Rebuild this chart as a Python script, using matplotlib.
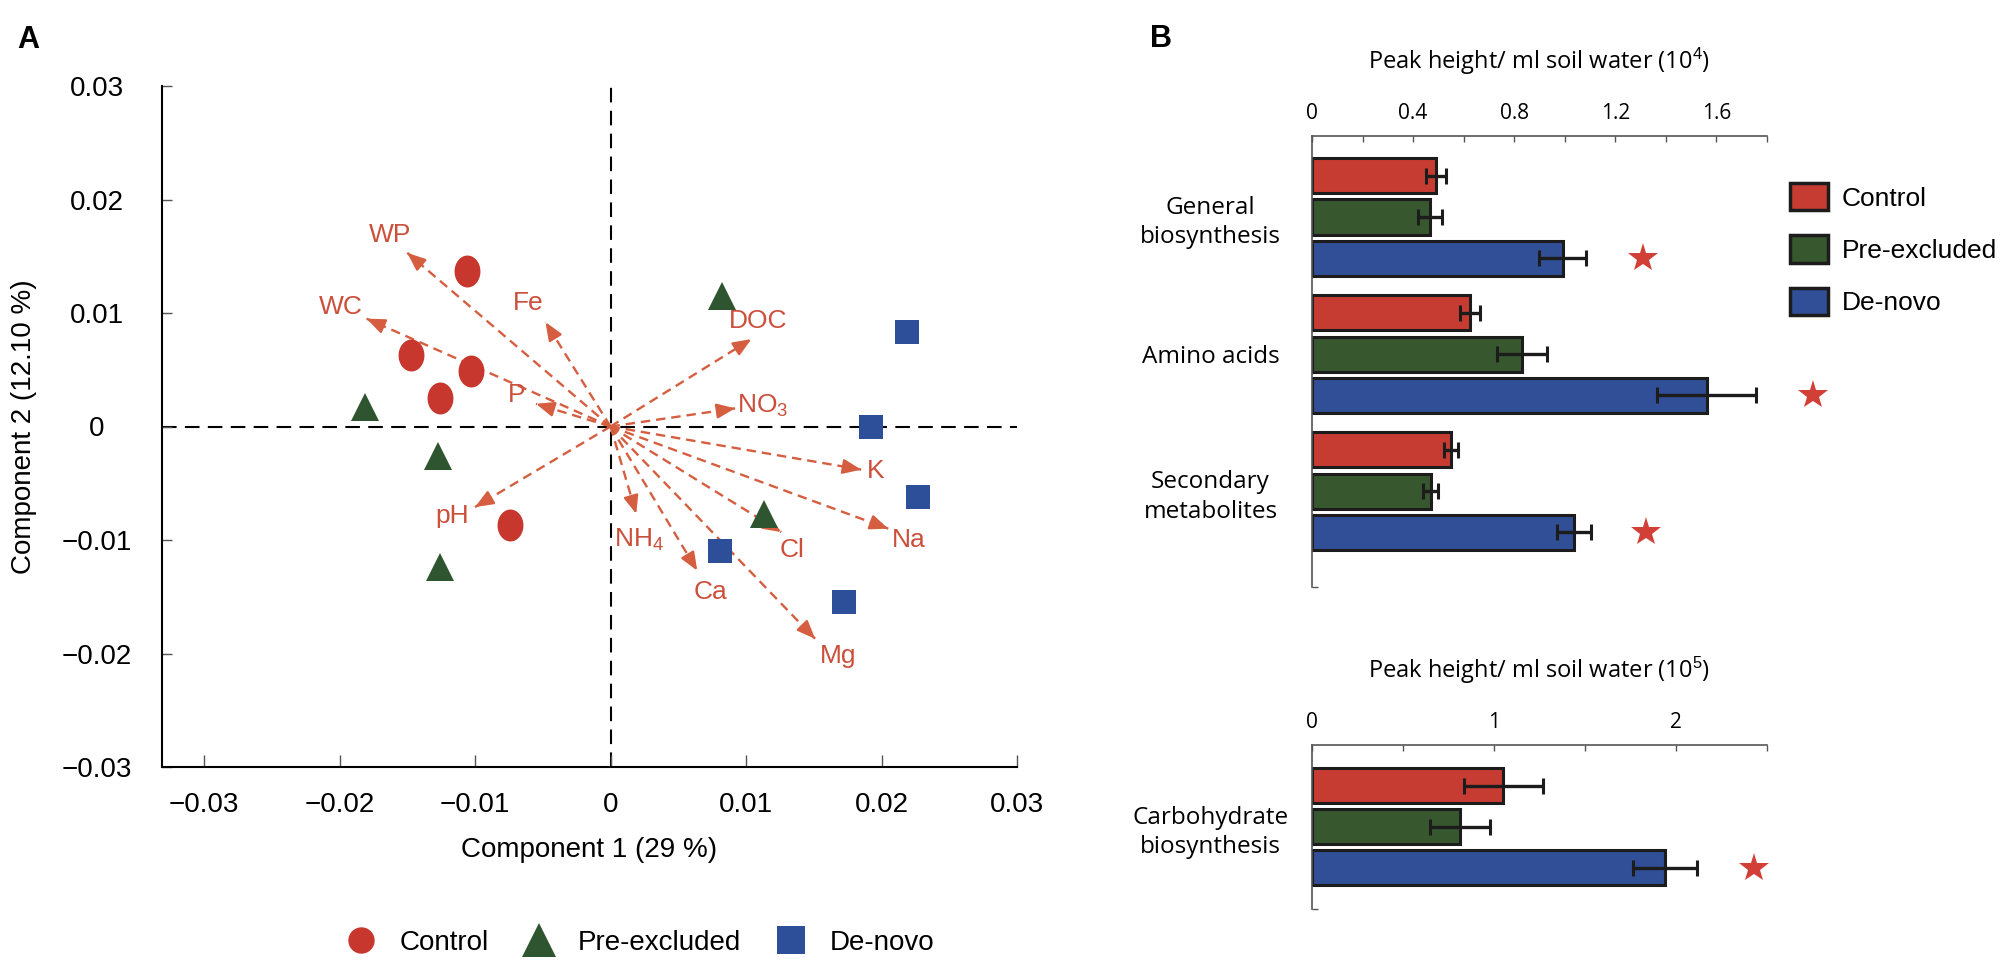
import numpy as np
import matplotlib
matplotlib.use("Agg")
import matplotlib.pyplot as plt
from matplotlib import font_manager
from matplotlib.path import Path
from matplotlib.lines import Line2D
from matplotlib.patches import Patch

# ---- data: panel A (PCA scores and loading vectors) ----
control_x = [-0.0106, -0.0147, -0.0103, -0.0126, -0.0074]
control_y = [0.0137, 0.0063, 0.0049, 0.0025, -0.0087]
preexcl_x = [-0.0181, -0.0127, -0.0126, 0.0082, 0.0113]
preexcl_y = [0.0017, -0.0026, -0.0124, 0.0115, -0.0077]
denovo_x = [0.0219, 0.0192, 0.0227, 0.0081, 0.0172]
denovo_y = [0.0083, 0.0000, -0.0062, -0.0110, -0.0155]

env_names = ["WP", "WC", "Fe", "P", "pH", "DOC", "NO$_3$", "K", "Na", "Cl",
             "Mg", "Ca", "NH$_4$"]
env_x = [-0.0150, -0.0180, -0.0048, -0.0055, -0.0100, 0.0104, 0.0092,
         0.0185, 0.0205, 0.0126, 0.0151, 0.0064, 0.0019]
env_y = [0.0153, 0.0095, 0.0092, 0.0020, -0.0071, 0.0077, 0.0016,
         -0.0038, -0.0090, -0.0093, -0.0187, -0.0127, -0.0077]
label_x = [-0.0163, -0.0199, -0.0061, -0.0069, -0.0117, 0.0109, 0.0112,
           0.0196, 0.0220, 0.0134, 0.0168, 0.0074, 0.0021]
label_y = [0.0169, 0.0105, 0.0109, 0.0028, -0.0079, 0.0093, 0.0018,
           -0.0039, -0.0100, -0.0109, -0.0202, -0.0146, -0.0100]

pca_ticks = [-0.03, -0.02, -0.01, 0, 0.01, 0.02, 0.03]
pca_ticklabels = ["\u22120.03", "\u22120.02", "\u22120.01", "0", "0.01", "0.02", "0.03"]

# ---- data: panel B (peak heights) ----
groups_top = ["General\nbiosynthesis", "Amino acids", "Secondary\nmetabolites"]
control_top = [0.49, 0.624, 0.549]
control_top_err = [0.04, 0.04, 0.028]
preexcl_top = [0.466, 0.83, 0.47]
preexcl_top_err = [0.048, 0.10, 0.03]
denovo_top = [0.992, 1.561, 1.036]
denovo_top_err = [0.093, 0.196, 0.067]
star_top = [1.31, 1.98, 1.32]

groups_bot = ["Carbohydrate\nbiosynthesis"]
control_bot = [1.05]
control_bot_err = [0.217]
preexcl_bot = [0.813]
preexcl_bot_err = [0.165]
denovo_bot = [1.94]
denovo_bot_err = [0.176]
star_bot = [2.43]

# ---- styles ----
names = {f.name for f in font_manager.fontManager.ttflist}
narrow = "Liberation Sans Narrow" if "Liberation Sans Narrow" in names else "Liberation Sans"
human = "Open Sans"

plt.rcParams["font.family"] = ["Liberation Sans", "DejaVu Sans"]
plt.rcParams["mathtext.fontset"] = "custom"
plt.rcParams["mathtext.rm"] = "Liberation Sans"
plt.rcParams["mathtext.it"] = "Liberation Sans"

red = "#c8372d"
green = "#2f5530"
blue = "#2d4f99"
bar_red = "#c63c32"
bar_green = "#37572f"
bar_blue = "#314f96"
arrow_c = "#d65e40"
edge = "#1c1c1c"
axis_gray = "#555555"

t = np.linspace(0, 2 * np.pi, 60)
ellipse = Path(np.column_stack([0.81 * np.cos(t), np.sin(t)]), closed=True)

fig = plt.figure(figsize=(20, 9.65), dpi=100)
W, H = 2000.0, 965.0


def box(left, top, right, bottom):
    return [left / W, 1 - bottom / H, (right - left) / W, (bottom - top) / H]


# ================= panel A =================
ax = fig.add_axes(box(162, 86, 1017, 767))
ax.set_xlim(-0.0331, 0.030)
ax.set_ylim(-0.03, 0.03)

ax.axhline(0, color="black", lw=1.5, dashes=(7, 4), zorder=1)
ax.axvline(0, color="black", lw=1.5, dashes=(7, 4), zorder=1)

for ex, ey in zip(env_x, env_y):
    ax.plot([0, ex], [0, ey], color=arrow_c, lw=1.7, dashes=(4, 2.5), zorder=2)
    p0 = ax.transData.transform((0, 0))
    p1 = ax.transData.transform((ex, ey))
    d = (p1 - p0) / np.hypot(*(p1 - p0))
    ax.annotate("", xy=(ex, ey), xytext=(-d[0] * 11, -d[1] * 11),
                textcoords="offset points",
                arrowprops=dict(arrowstyle="-|>,head_length=1.1,head_width=0.45",
                                color=arrow_c, lw=1.7, shrinkA=0, shrinkB=0),
                zorder=2)

for name, lx, ly in zip(env_names, label_x, label_y):
    ax.text(lx, ly, name, color="#cc4f3b", fontsize=19, family=narrow,
            ha="center", va="center", zorder=3)

ax.plot(control_x, control_y, ls="none", marker=ellipse, ms=23, color=red,
        mew=0, zorder=4)
ax.plot(preexcl_x, preexcl_y, ls="none", marker="^", ms=20, color=green,
        mew=0, zorder=4)
ax.plot(denovo_x, denovo_y, ls="none", marker="s", ms=17, color=blue,
        mew=0, zorder=4)

for s in ["top", "right"]:
    ax.spines[s].set_visible(False)
for s in ["left", "bottom"]:
    ax.spines[s].set_linewidth(1.5)

ax.set_xticks(pca_ticks, pca_ticklabels)
ax.set_yticks(pca_ticks, pca_ticklabels)
ax.tick_params(axis="x", direction="in", length=9, width=1, color=axis_gray,
               labelsize=20, pad=18)
ax.tick_params(axis="y", direction="in", length=7, width=1, color=axis_gray,
               labelsize=20, pad=47)
for lab in ax.get_yticklabels():
    lab.set_ha("center")

ax.set_xlabel("Component 1 (29 %)", fontsize=20, labelpad=14)
ax.set_ylabel("Component 2 (12.10 %)", fontsize=20, labelpad=18)

legA = [Line2D([], [], ls="none", marker="o", ms=19, color=red, mew=0),
        Line2D([], [], ls="none", marker="^", ms=24, color=green, mew=0),
        Line2D([], [], ls="none", marker="s", ms=20, color=blue, mew=0)]
fig.legend(legA, ["Control", "Pre-excluded", "De-novo"], loc="center",
           bbox_to_anchor=(0.3205, 1 - 943 / H), ncol=3, frameon=False,
           fontsize=20, handlelength=1.0, handletextpad=0.9,
           columnspacing=1.3, borderpad=0)

fig.text(28 / W, 1 - 40 / H, "A", fontsize=22, fontweight="bold",
         ha="center", va="center")
fig.text(1161 / W, 1 - 39 / H, "B", fontsize=22, fontweight="bold",
         ha="center", va="center")

# ================= panel B =================
step = 3.32
bar_h = 0.85


def bar_panel(axb, groups, vals, errs, stars, xmax, major, minor, title,
              top_pad, bottom_pad):
    centers = np.arange(len(groups)) * step
    colors = [bar_red, bar_green, bar_blue]
    for k, (v, e, c) in enumerate(zip(vals, errs, colors)):
        axb.barh(centers + (k - 1), v, height=bar_h, color=c, edgecolor=edge,
                 linewidth=2.2, xerr=e, zorder=2,
                 error_kw=dict(ecolor=edge, elinewidth=2.4, capsize=5.5,
                               capthick=2.2, zorder=3))
    axb.plot(stars, centers + 1, ls="none", marker="*", ms=22, color="#d23f37",
             mew=0, clip_on=False, zorder=4)
    axb.set_xlim(0, xmax)
    ylo = centers[-1] + bottom_pad
    axb.set_ylim(ylo, -top_pad)
    axb.xaxis.tick_top()
    axb.xaxis.set_label_position("top")
    axb.set_xticks(major, [f"{m:g}" for m in major])
    axb.set_xticks(minor, minor=True)
    axb.tick_params(axis="x", which="both", direction="in", length=4, width=1,
                    color=axis_gray, labelsize=15, pad=9)
    for lab in axb.get_xticklabels():
        lab.set_family(human)
    axb.set_yticks(centers, groups)
    axb.set_yticks([ylo], minor=True)
    axb.tick_params(axis="y", which="major", length=0, pad=73, labelsize=17.5)
    axb.tick_params(axis="y", which="minor", direction="in", length=4, width=1,
                    color=axis_gray)
    for lab in axb.get_yticklabels():
        lab.set_ha("center")
        lab.set_multialignment("center")
        lab.set_family(human)
        lab.set_linespacing(1.3)
    axb.set_xlabel(title, fontsize=17, family=human, labelpad=24)
    for s in ["right", "bottom"]:
        axb.spines[s].set_visible(False)
    for s in ["top", "left"]:
        axb.spines[s].set_color(axis_gray)
        axb.spines[s].set_linewidth(1.2)


axB1 = fig.add_axes(box(1312, 136, 1767, 587))
bar_panel(axB1, groups_top, [control_top, preexcl_top, denovo_top],
          [control_top_err, preexcl_top_err, denovo_top_err], star_top, 1.8,
          [0, 0.4, 0.8, 1.2, 1.6], np.arange(0, 1.81, 0.2),
          "Peak height/ ml soil water (10$^4$)", 1.96, 2.32)

axB2 = fig.add_axes(box(1312, 745, 1767, 909))
bar_panel(axB2, groups_bot, [control_bot, preexcl_bot, denovo_bot],
          [control_bot_err, preexcl_bot_err, denovo_bot_err], star_bot, 2.5,
          [0, 1, 2], np.arange(0, 2.51, 0.5),
          "Peak height/ ml soil water (10$^5$)", 1.99, 2.0)

legB = [Patch(facecolor=c, edgecolor=edge, linewidth=2.5)
        for c in [bar_red, bar_green, bar_blue]]
fig.legend(legB, ["Control", "Pre-excluded", "De-novo"], loc="upper left",
           bbox_to_anchor=(1790 / W, 1 - 183 / H), frameon=False, fontsize=19,
           handlelength=1.44, handleheight=1.21, handletextpad=0.53,
           labelspacing=0.94, borderpad=0, borderaxespad=0)

fig.savefig("out.png", dpi=100)
